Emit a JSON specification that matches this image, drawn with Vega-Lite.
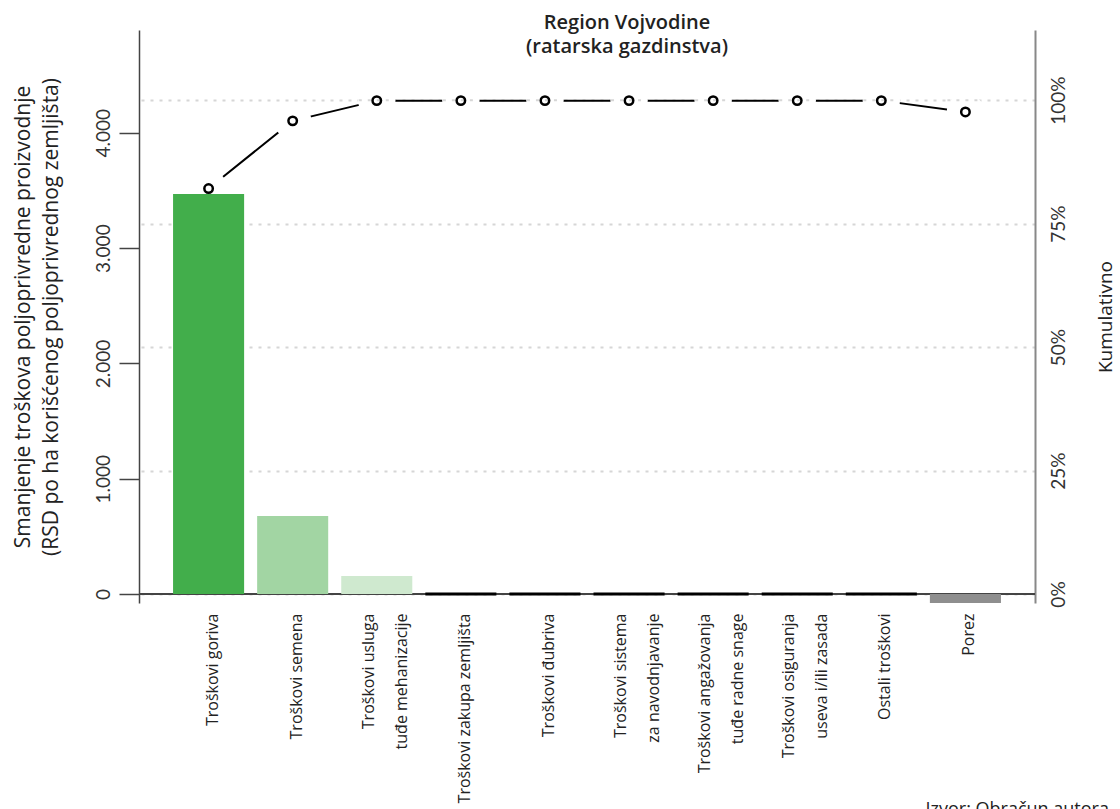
{
  "$schema": "https://vega.github.io/schema/vega-lite/v6.json",
  "width": 896,
  "height": 573,
  "autosize": {"type": "none"},
  "padding": {"left": 139, "top": 30, "right": 85, "bottom": 206},
  "background": "white",
  "config": {"view": {"stroke": null}, "font": "Lato"},
  "title": {
    "text": ["Region Vojvodine", "(ratarska gazdinstva)"],
    "font": "Open Sans",
    "fontSize": 20,
    "fontWeight": 600,
    "lineHeight": 24,
    "anchor": "middle",
    "dx": 40,
    "offset": -27,
    "color": "#222222"
  },
  "data": {
    "values": [
      {"cat": "Troškovi goriva", "value": 3470, "cum": 82.1},
      {"cat": "Troškovi semena", "value": 676, "cum": 95.8},
      {"cat": "Troškovi usluga\ntuđe mehanizacije", "value": 156, "cum": 99.9},
      {"cat": "Troškovi zakupa zemljišta", "value": 0, "cum": 99.9},
      {"cat": "Troškovi đubriva", "value": 0, "cum": 99.9},
      {"cat": "Troškovi sistema\nza navodnjavanje", "value": 0, "cum": 99.9},
      {"cat": "Troškovi angažovanja\ntuđe radne snage", "value": 0, "cum": 99.9},
      {"cat": "Troškovi osiguranja\nuseva i/ili zasada", "value": 0, "cum": 99.9},
      {"cat": "Ostali troškovi", "value": 0, "cum": 99.9},
      {"cat": "Porez", "value": -78, "cum": 97.6}
    ]
  },
  "layer": [
    {
      "layer": [
        {
          "mark": {"type": "line", "color": "black", "strokeWidth": 2},
          "encoding": {
            "x": {"field": "cat", "type": "nominal", "sort": null, "scale": {"paddingInner": 0.155, "paddingOuter": 0.405},
              "axis": {"labelAngle": 270, "labelAlign": "right", "labelBaseline": "middle", "labelPadding": 10, "labelFontSize": 16, "labelFont": "Open Sans", "labelLineHeight": 33,
                "labelOffset": {"condition": {"test": "indexof(datum.value, '\\n') >= 0", "value": -8}, "value": 4},
                "labelLimit": 400, "labelOverlap": false, "labelColor": "#222222", "ticks": false, "domain": false, "labelExpr": "split(datum.label, '\\n')",
                "title": "Izvor: Obračun autora", "titleX": 786, "titleY": 211, "titleAlign": "left", "titleAnchor": "start", "titleBaseline": "alphabetic", "titleFontSize": 18, "titleFont": "Open Sans", "titleFontWeight": "normal", "titleColor": "#222222"}},
            "y": {"field": "cum", "type": "quantitative", "scale": {"domain": [-1.82, 114.2], "nice": false, "zero": false},
              "axis": {"orient": "right", "values": [0, 25, 50, 75, 100], "labelExpr": "datum.value + '%'", "labelAngle": 270, "labelAlign": "center", "labelBaseline": "top", "labelPadding": 14, "labelFontSize": 19, "labelColor": "#333333", "ticks": false, "domainColor": "#888888", "domainWidth": 2, "grid": true, "gridColor": "#d6d6d6", "gridDash": [3, 6], "gridWidth": 2,
                "title": "Kumulativno", "titleFont": "Open Sans", "titleFontSize": 19, "titleFontWeight": "normal", "titleColor": "#222222", "titleAngle": 270, "titleBaseline": "top", "titlePadding": 28}}
          }
        },
        {
          "mark": {"type": "point", "shape": "circle", "filled": true, "color": "white", "size": 1400, "opacity": 1},
          "encoding": {
            "x": {"field": "cat", "type": "nominal", "sort": null},
            "y": {"field": "cum", "type": "quantitative"}
          }
        }
      ]
    },
    {
      "layer": [
        {
          "mark": {"type": "rule", "color": "#444444", "strokeWidth": 1.5},
          "encoding": {"y": {"datum": 0, "type": "quantitative"}}
        },
        {
          "mark": {"type": "bar", "stroke": "black"},
          "encoding": {
            "x": {"field": "cat", "type": "nominal", "sort": null},
            "y": {"field": "value", "type": "quantitative", "scale": {"domain": [-78, 4892], "nice": false, "zero": false},
              "axis": {"orient": "left", "values": [0, 1000, 2000, 3000, 4000], "labelExpr": "replace(format(datum.value, ',d'), ',', '.')", "labelAngle": 270, "labelAlign": "center", "labelBaseline": "alphabetic", "labelPadding": 10, "labelFontSize": 19, "labelColor": "#333333", "tickSize": 20, "tickColor": "#444444", "tickWidth": 1.5, "domainColor": "#444444", "domainWidth": 1.5, "grid": false,
                "title": ["Smanjenje troškova poljoprivredne proizvodnje", "(RSD po ha korišćenog poljoprivrednog zemljišta)"], "titleFont": "Open Sans", "titleFontSize": 21, "titleFontWeight": "normal", "titleColor": "#222222", "titleLineHeight": 28, "titleAngle": 270, "titleBaseline": "bottom", "titlePadding": 33}},
            "color": {"field": "cat", "type": "nominal", "legend": null,
              "scale": {"domain": ["Troškovi goriva", "Troškovi semena", "Troškovi usluga\ntuđe mehanizacije", "Troškovi zakupa zemljišta", "Troškovi đubriva", "Troškovi sistema\nza navodnjavanje", "Troškovi angažovanja\ntuđe radne snage", "Troškovi osiguranja\nuseva i/ili zasada", "Ostali troškovi", "Porez"],
                "range": ["#42ae4b", "#a2d5a3", "#cfe9cf", "#111111", "#111111", "#111111", "#111111", "#111111", "#111111", "#8e8e8e"]}},
            "strokeWidth": {"condition": {"test": "datum.value == 0", "value": 3}, "value": 0}
          }
        }
      ]
    },
    {
      "layer": [
        {
          "transform": [{"filter": "datum.cum > 97"}],
          "mark": {"type": "rule", "color": "#d6d6d6", "strokeWidth": 2, "strokeDash": [3, 6], "xOffset": -18, "x2Offset": 18},
          "encoding": {
            "x": {"field": "cat", "type": "nominal", "sort": null},
            "x2": {"field": "cat"},
            "y": {"datum": 100, "type": "quantitative"}
          }
        },
        {
          "mark": {"type": "point", "shape": "circle", "filled": false, "color": "black", "strokeWidth": 2.5, "size": 72, "opacity": 1},
          "encoding": {
            "x": {"field": "cat", "type": "nominal", "sort": null},
            "y": {"field": "cum", "type": "quantitative"}
          }
        }
      ],
      "encoding": {
        "y": {"scale": {"domain": [-1.82, 114.2], "nice": false, "zero": false}, "axis": null}
      }
    }
  ],
  "resolve": {"scale": {"y": "independent"}}
}
